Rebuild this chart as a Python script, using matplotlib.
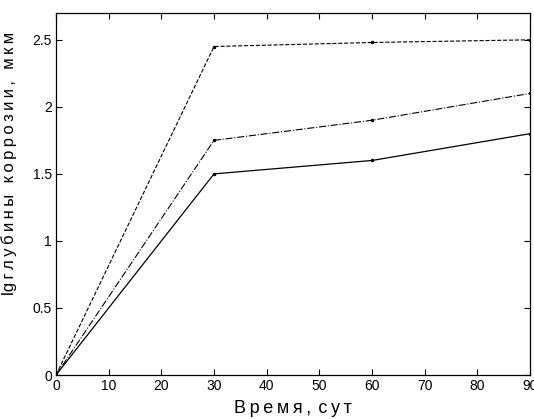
import numpy as np
import matplotlib.pyplot as plt

plt.rcParams['font.family'] = ['Liberation Sans', 'DejaVu Sans']

days = [0, 30, 60, 90]
depth_top = [0, 2.45, 2.48, 2.50]   # dashed
depth_mid = [0, 1.75, 1.90, 2.10]   # dash-dot
depth_low = [0, 1.50, 1.60, 1.80]   # solid


def spaced(s):
    # widen letter spacing with thin spaces
    return '\u2009'.join(s)


fig = plt.figure(figsize=(5.34, 4.19), dpi=100)
ax = fig.add_axes([0.1049, 0.105, 0.8876, 0.864])

ax.plot(days, depth_top, '--', color='black', lw=0.8, marker='.', ms=3)
ax.plot(days, depth_mid, '-.', color='black', lw=0.8, marker='.', ms=3)
ax.plot(days, depth_low, '-', color='black', lw=0.9, marker='.', ms=3)

ax.set_xlim(0, 90)
ax.set_ylim(0, 2.7)
ax.set_xticks(np.arange(0, 91, 10))
ax.set_yticks([0, 0.5, 1, 1.5, 2, 2.5])
ax.set_yticklabels(['0', '0.5', '1', '1.5', '2', '2.5'])
ax.tick_params(direction='in', top=True, right=True, length=4, width=0.8,
               labelsize=10, pad=3)
for s in ax.spines.values():
    s.set_linewidth(0.9)

ax.set_xlabel(spaced('Время') + '\u2009,\u2009\u2009' + spaced('сут'), fontsize=13, labelpad=5)
ax.set_ylabel('lg' + '\u2009' + spaced('глубины коррозии, мкм'), fontsize=12)
ax.yaxis.set_label_coords(-0.082, 0.585)

fig.savefig('out.png', dpi=100)
